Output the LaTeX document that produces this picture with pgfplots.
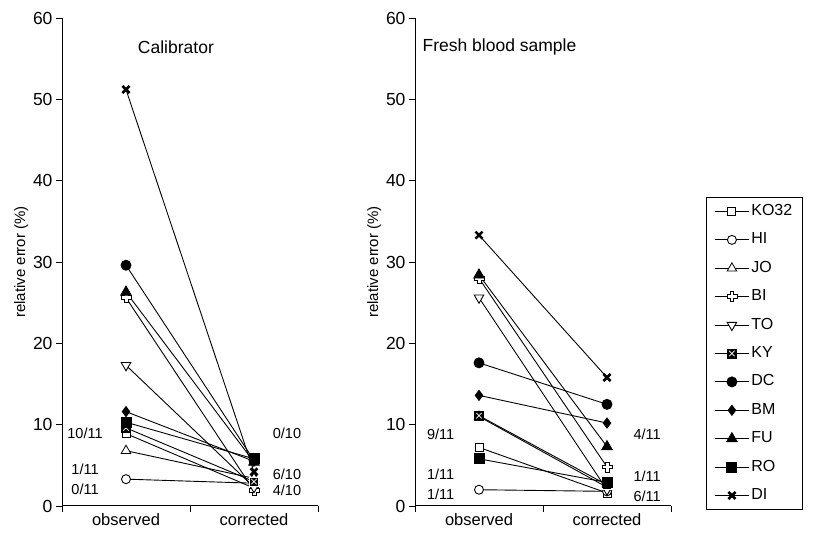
\documentclass[border=0pt]{standalone}
\usepackage{fontspec}
\setmainfont{Liberation Sans}
\usepackage{pgfplots}
\pgfplotsset{compat=1.18}
\usetikzlibrary{plotmarks}

% hollow plus (BI)
\pgfdeclareplotmark{hplus}{%
  \pgfpathmoveto{\pgfpoint{-0.38\pgfplotmarksize}{\pgfplotmarksize}}%
  \pgfpathlineto{\pgfpoint{0.38\pgfplotmarksize}{\pgfplotmarksize}}%
  \pgfpathlineto{\pgfpoint{0.38\pgfplotmarksize}{0.38\pgfplotmarksize}}%
  \pgfpathlineto{\pgfpoint{\pgfplotmarksize}{0.38\pgfplotmarksize}}%
  \pgfpathlineto{\pgfpoint{\pgfplotmarksize}{-0.38\pgfplotmarksize}}%
  \pgfpathlineto{\pgfpoint{0.38\pgfplotmarksize}{-0.38\pgfplotmarksize}}%
  \pgfpathlineto{\pgfpoint{0.38\pgfplotmarksize}{-\pgfplotmarksize}}%
  \pgfpathlineto{\pgfpoint{-0.38\pgfplotmarksize}{-\pgfplotmarksize}}%
  \pgfpathlineto{\pgfpoint{-0.38\pgfplotmarksize}{-0.38\pgfplotmarksize}}%
  \pgfpathlineto{\pgfpoint{-\pgfplotmarksize}{-0.38\pgfplotmarksize}}%
  \pgfpathlineto{\pgfpoint{-\pgfplotmarksize}{0.38\pgfplotmarksize}}%
  \pgfpathlineto{\pgfpoint{-0.38\pgfplotmarksize}{0.38\pgfplotmarksize}}%
  \pgfpathclose
  \pgfusepathqfillstroke
}
% square with a cross inside (KY)
\pgfdeclareplotmark{sqx}{%
  \pgfpathrectangle{\pgfpoint{-\pgfplotmarksize}{-\pgfplotmarksize}}{\pgfpoint{2\pgfplotmarksize}{2\pgfplotmarksize}}%
  \pgfusepathqfillstroke
  \pgfsetstrokecolor{white}%
  \pgfsetlinewidth{0.7pt}%
  \pgfpathmoveto{\pgfpoint{-0.6\pgfplotmarksize}{-0.6\pgfplotmarksize}}%
  \pgfpathlineto{\pgfpoint{0.6\pgfplotmarksize}{0.6\pgfplotmarksize}}%
  \pgfpathmoveto{\pgfpoint{-0.6\pgfplotmarksize}{0.6\pgfplotmarksize}}%
  \pgfpathlineto{\pgfpoint{0.6\pgfplotmarksize}{-0.6\pgfplotmarksize}}%
  \pgfusepathqstroke
}

\tikzset{fr/.style={font=\fontsize{14.5}{16}\selectfont}}

\pgfplotsset{
  myax/.style={
    scale only axis, width=256pt, height=488pt,
    xmin=0, xmax=2, ymin=0, ymax=60,
    axis x line*=bottom, axis y line*=left,
    axis line style={line width=1pt},
    every tick/.style={black, line width=0.8pt},
    tick align=outside, major tick length=6pt,
    ytick={0,10,...,60},
    xtick={0,1,2}, xticklabels={},
    extra x ticks={0.5,1.5}, extra x tick labels={observed,corrected},
    extra x tick style={major tick length=0pt,
      tick label style={font=\fontsize{16.5}{18}\selectfont, yshift=-4pt}},
    yticklabel style={font=\fontsize{17.5}{19}\selectfont},
    /pgf/number format/assume math mode=true,
    ylabel={relative error (\%)},
    ylabel style={font=\fontsize{15}{17}\selectfont, yshift=-2pt},
    clip=false,
  },
  ln/.style={black, line width=0.9pt},
  sKO/.style={ln, mark=square*, mark size=4pt, mark options={fill=white, line width=0.9pt}},
  sHI/.style={ln, mark=*, mark size=4.5pt, mark options={fill=white, line width=0.9pt}},
  sJO/.style={ln, mark=triangle*, mark size=5.5pt, mark options={fill=white, line width=0.8pt}},
  sBI/.style={ln, mark=hplus, mark size=5pt, mark options={fill=white, line width=0.8pt}},
  sTO/.style={ln, mark=triangle*, mark size=5.5pt, mark options={fill=white, rotate=180, line width=0.9pt}},
  sKY/.style={ln, mark=sqx, mark size=4.5pt, mark options={fill=black, line width=0.9pt}},
  sDC/.style={ln, mark=*, mark size=5pt, mark options={fill=black}},
  sBM/.style={ln, mark=diamond*, mark size=5pt, mark options={fill=black}},
  sFU/.style={ln, mark=triangle*, mark size=6pt, mark options={fill=black}},
  sRO/.style={ln, mark=square*, mark size=5pt, mark options={fill=black}},
  sDI/.style={ln, mark=x, mark size=5pt, mark options={line width=2.6pt}},
}

\begin{document}
\begin{tikzpicture}
\useasboundingbox (0,0) rectangle (823pt,534pt);

% Calibrator
\begin{axis}[myax, at={(62pt,28pt)}, anchor=south west]
\addplot[sKO] coordinates {(0.5,8.9) (1.5,2.2)};
\addplot[sHI] coordinates {(0.5,3.3) (1.5,2.8)};
\addplot[sJO] coordinates {(0.5,6.8) (1.5,3.4)};
\addplot[sBI] coordinates {(0.5,25.6) (1.5,1.9)};
\addplot[sTO] coordinates {(0.5,17.3) (1.5,2.3)};
\addplot[sKY] coordinates {(0.5,9.6) (1.5,3.0)};
\addplot[sDC] coordinates {(0.5,29.6) (1.5,5.6)};
\addplot[sBM] coordinates {(0.5,11.6) (1.5,5.5)};
\addplot[sFU] coordinates {(0.5,26.3) (1.5,5.4)};
\addplot[sRO] coordinates {(0.5,10.3) (1.5,5.8)};
\addplot[sDI] coordinates {(0.5,51.2) (1.5,4.2)};
\node[font=\fontsize{17.5}{19}\selectfont] at (axis cs:0.89,56.4) {Calibrator};
\node[fr] at (axis cs:0.18,8.9) {10/11};
\node[fr] at (axis cs:0.18,4.5) {1/11};
\node[fr] at (axis cs:0.18,2.0) {0/11};
\node[fr, anchor=west] at (axis cs:1.62,8.9) {0/10};
\node[fr, anchor=west] at (axis cs:1.62,3.9) {6/10};
\node[fr, anchor=west] at (axis cs:1.62,1.9) {4/10};
\end{axis}

% Fresh blood sample
\begin{axis}[myax, at={(415pt,28pt)}, anchor=south west,
  legend style={at={(rel axis cs:1.137,0.633)}, anchor=north west,
    draw=black, line width=0.8pt, font=\fontsize{16}{18}\selectfont,
    row sep=10.4pt, inner xsep=8pt, inner ysep=5pt,
    nodes={inner sep=2pt, text height=11pt, text depth=3pt},
    cells={anchor=west}},
  legend image code/.code={%
    \draw[#1, mark repeat=2, mark phase=2] plot coordinates {(0pt,0pt) (17pt,0pt) (34pt,0pt)};}]
\addplot[sKO] coordinates {(0.5,7.2) (1.5,1.6)};
\addplot[sHI] coordinates {(0.5,2.0) (1.5,1.8)};
\addplot[sJO] coordinates {(0.5,11.0) (1.5,2.3)};
\addplot[sBI] coordinates {(0.5,28.0) (1.5,4.8)};
\addplot[sTO] coordinates {(0.5,25.6) (1.5,2.0)};
\addplot[sKY] coordinates {(0.5,11.1) (1.5,2.6)};
\addplot[sDC] coordinates {(0.5,17.6) (1.5,12.5)};
\addplot[sBM] coordinates {(0.5,13.6) (1.5,10.2)};
\addplot[sFU] coordinates {(0.5,28.4) (1.5,7.3)};
\addplot[sRO] coordinates {(0.5,5.8) (1.5,2.9)};
\addplot[sDI] coordinates {(0.5,33.3) (1.5,15.8)};
\legend{KO32,HI,JO,BI,TO,KY,DC,BM,FU,RO,DI}
\node[font=\fontsize{17.5}{19}\selectfont] at (axis cs:0.66,56.4) {Fresh blood sample};
\node[fr] at (axis cs:0.2,8.8) {9/11};
\node[fr] at (axis cs:0.2,3.9) {1/11};
\node[fr] at (axis cs:0.2,1.4) {1/11};
\node[fr, anchor=west] at (axis cs:1.68,8.8) {4/11};
\node[fr, anchor=west] at (axis cs:1.68,3.7) {1/11};
\node[fr, anchor=west] at (axis cs:1.68,1.2) {6/11};
\end{axis}
\end{tikzpicture}
\end{document}
